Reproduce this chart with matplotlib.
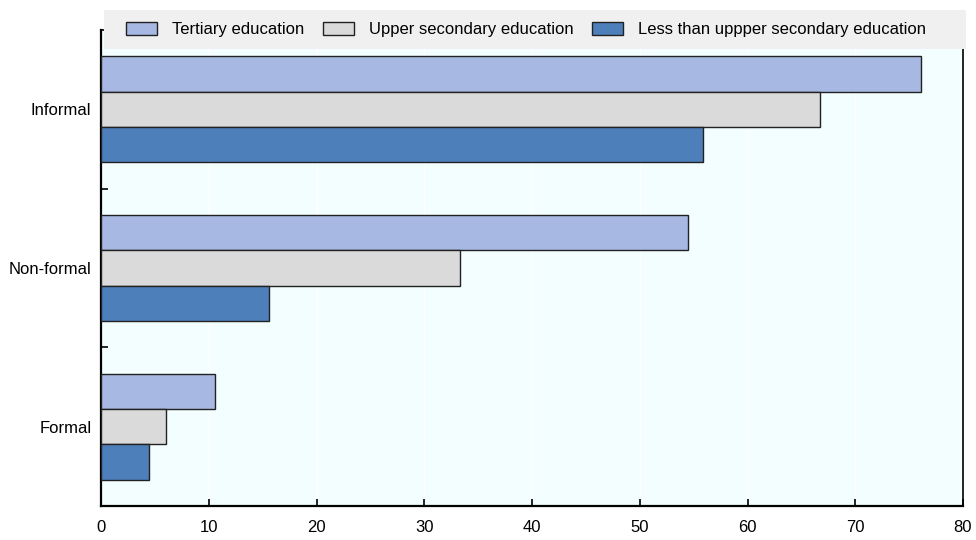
import matplotlib
matplotlib.use("Agg")
import matplotlib.pyplot as plt
from matplotlib.patches import Rectangle, Patch
import numpy as np

plt.rcParams['font.family'] = ['Liberation Sans', 'DejaVu Sans']

categories = ["Formal", "Non-formal", "Informal"]
series_names = ["Tertiary education", "Upper secondary education", "Less than uppper secondary education"]
tertiary = [10.6, 54.5, 76.1]
upper_secondary = [6.0, 33.3, 66.7]
less_than_upper = [4.5, 15.6, 55.9]
x_ticks = [0, 10, 20, 30, 40, 50, 60, 70, 80]

colors = ["#A7B8E2", "#DADADA", "#4D7FBB"]
edge = "#222222"
fs = 12

fig = plt.figure(figsize=(9.76, 5.4), dpi=100)
ax = fig.add_axes([101/976, 34/540, (963-101)/976, (506-30)/540])
ax.set_facecolor("#F2FEFF")

y = np.arange(len(categories))
h = 0.222
offsets = [h, 0, -h]
for vals, off, c, name in zip([tertiary, upper_secondary, less_than_upper], offsets, colors, series_names):
    ax.barh(y + off, vals, height=h, color=c, edgecolor=edge, linewidth=1.0, label=name, zorder=3)

ax.set_xlim(0, 80)
ax.set_ylim(-0.5, 2.5)
ax.set_xticks(x_ticks)
ax.set_xticklabels([str(t) for t in x_ticks], fontsize=fs)
ax.set_yticks(y)
ax.set_yticklabels(categories, fontsize=fs)
ax.set_yticks([0.5, 1.5, 2.5], minor=True)
ax.tick_params(axis='y', which='major', length=0, pad=7)
ax.tick_params(axis='y', which='minor', length=5, direction='in', width=1.2, color='black')
ax.tick_params(axis='x', which='major', length=5, direction='in', width=1.2, pad=10)
ax.grid(axis='x', color='white', linewidth=1.0, zorder=0)
ax.set_axisbelow(True)
for s in ['left', 'bottom']:
    ax.spines[s].set_linewidth(1.6)
    ax.spines[s].set_color('black')
ax.spines['right'].set_linewidth(1.2)
ax.spines['right'].set_color('black')
ax.spines['top'].set_visible(False)

rect = Rectangle((104/976, (540-49)/540), (966-104)/976, 39/540, transform=fig.transFigure,
                 facecolor="#F0F0F0", edgecolor='none', zorder=3)
fig.add_artist(rect)

handles = [Patch(facecolor=c, edgecolor=edge, linewidth=1.0) for c in colors]
leg = fig.legend(handles, series_names, ncol=3, loc='center left',
                 bbox_to_anchor=(121/976, (540-29.5)/540), frameon=False, fontsize=fs,
                 handlelength=1.85, handleheight=0.85, handletextpad=0.9, columnspacing=1.12,
                 borderpad=0.3, borderaxespad=0)
leg.set_zorder(5)

fig.savefig("out.png", dpi=100)
